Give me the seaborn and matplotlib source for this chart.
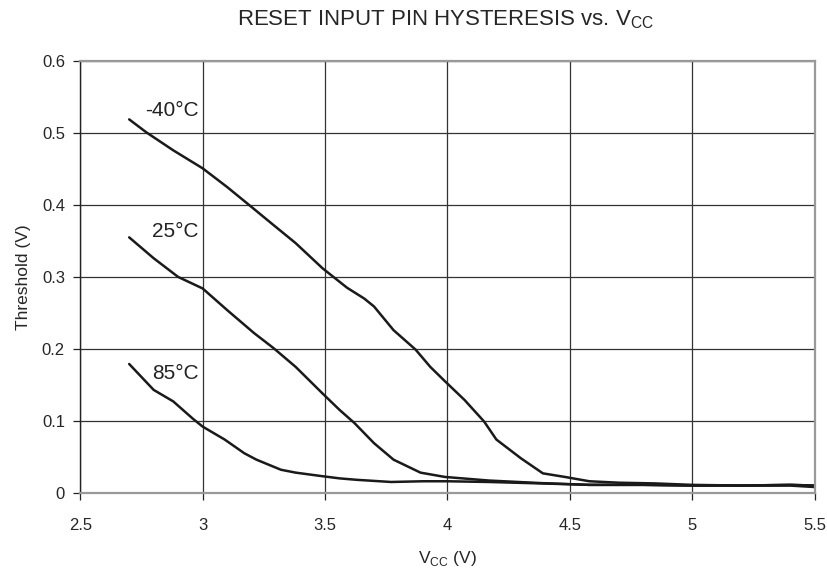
import numpy as np
import pandas as pd
import matplotlib
matplotlib.use("Agg")
import matplotlib.pyplot as plt
import seaborn as sns

# values
vcc_m40 = [2.70, 2.77, 2.88, 3.00, 3.10, 3.19, 3.29, 3.38, 3.49, 3.59, 3.66, 3.70, 3.78, 3.87, 3.93, 3.99,
           4.07, 4.15, 4.20, 4.30, 4.39, 4.48, 4.58, 4.70, 4.85, 5.00, 5.20, 5.40, 5.50]
thr_m40 = [0.519, 0.501, 0.476, 0.451, 0.425, 0.400, 0.372, 0.347, 0.312, 0.285, 0.270, 0.259, 0.226, 0.199, 0.175, 0.155,
           0.129, 0.099, 0.074, 0.048, 0.027, 0.022, 0.016, 0.014, 0.013, 0.011, 0.010, 0.010, 0.008]

vcc_25 = [2.70, 2.80, 2.90, 3.00, 3.10, 3.21, 3.29, 3.38, 3.49, 3.56, 3.62, 3.70, 3.78, 3.89, 3.99,
          4.17, 4.38, 4.58, 4.80, 5.00, 5.20, 5.40, 5.50]
thr_25 = [0.355, 0.326, 0.300, 0.284, 0.254, 0.222, 0.201, 0.175, 0.138, 0.115, 0.097, 0.069, 0.046, 0.028, 0.022,
          0.017, 0.0135, 0.011, 0.011, 0.010, 0.010, 0.011, 0.010]

vcc_85 = [2.70, 2.80, 2.88, 2.96, 3.00, 3.09, 3.17, 3.22, 3.32, 3.38, 3.49, 3.56, 3.63, 3.77, 3.90, 4.00,
          4.17, 4.38, 4.58, 4.80, 5.00, 5.20, 5.40, 5.50]
thr_85 = [0.179, 0.143, 0.127, 0.103, 0.092, 0.074, 0.055, 0.046, 0.032, 0.028, 0.023, 0.020, 0.018, 0.015, 0.016, 0.016,
          0.015, 0.013, 0.011, 0.011, 0.010, 0.010, 0.011, 0.010]

labels = ["-40°C", "25°C", "85°C"]
label_y = [0.523, 0.355, 0.158]

df = pd.concat([
    pd.DataFrame({"vcc": vcc_m40, "thr": thr_m40, "temp": labels[0]}),
    pd.DataFrame({"vcc": vcc_25, "thr": thr_25, "temp": labels[1]}),
    pd.DataFrame({"vcc": vcc_85, "thr": thr_85, "temp": labels[2]}),
])

sns.set_style("white")
plt.rcParams["font.family"] = ["Liberation Sans", "DejaVu Sans"]
plt.rcParams["mathtext.fontset"] = "custom"
plt.rcParams["mathtext.rm"] = "Liberation Sans"

fig = plt.figure(figsize=(8.27, 5.71), dpi=100)
ax = fig.add_axes([0.097, 0.137, 0.888, 0.756])

sns.lineplot(data=df, x="vcc", y="thr", hue="temp", sort=False,
             palette=["#1a1a1a"] * 3, linewidth=1.8, legend=False, ax=ax,
             solid_joinstyle="round", solid_capstyle="round")

ax.set_xlim(2.5, 5.5)
ax.set_ylim(0, 0.6)
ax.set_xticks(np.arange(2.5, 5.51, 0.5))
ax.set_yticks(np.arange(0, 0.61, 0.1))
ax.set_xticklabels(["2.5", "3", "3.5", "4", "4.5", "5", "5.5"])
ax.set_yticklabels(["0", "0.1", "0.2", "0.3", "0.4", "0.5", "0.6"])
ax.grid(True, color="#333333", linewidth=0.9)
ax.tick_params(axis="both", labelsize=12, length=5, width=0.9, color="#222222",
               direction="out", bottom=True, left=True)
ax.tick_params(axis="x", pad=13)
ax.tick_params(axis="y", pad=6)

for side in ["top", "right", "bottom"]:
    ax.spines[side].set_color("#999999")
    ax.spines[side].set_linewidth(1.6)
ax.spines["left"].set_color("#222222")
ax.spines["left"].set_linewidth(1.0)

ax.set_xlabel("V$_{\\mathrm{CC}}$ (V)", fontsize=12.5, labelpad=12)
ax.set_ylabel("Threshold (V)", fontsize=12.5, labelpad=8)
fig.text(0.539, 0.956, "RESET INPUT PIN HYSTERESIS vs. V$_{\\mathrm{CC}}$", fontsize=16,
         ha="center", va="baseline")

# curve labels
for lab, ly in zip(labels, label_y):
    ax.text(2.983, ly, lab, fontsize=15, ha="right", va="baseline", color="#222222")

fig.savefig("out.png", dpi=100)
